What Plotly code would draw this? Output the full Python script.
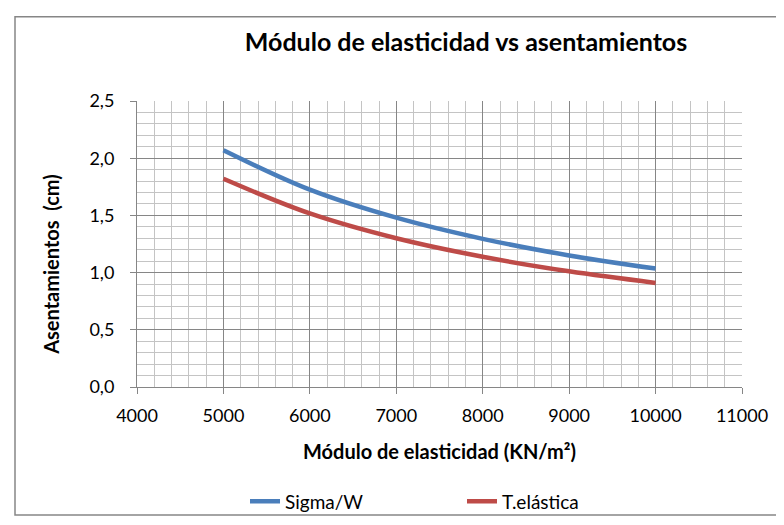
import plotly.graph_objects as go

modulo = [5000, 6000, 7000, 8000, 9000, 10000]
sigma_w = [2.07, 1.725, 1.48, 1.295, 1.15, 1.035]
t_elastica = [1.82, 1.517, 1.30, 1.138, 1.011, 0.91]

W, H = 784, 525
L, R, T, B = 129, 50, 93, 137
pw, ph = W - L - R, H - T - B

FONT = "Lato"

fig = go.Figure()
fig.add_trace(go.Scatter(x=modulo, y=sigma_w, name="Sigma/W", mode="lines",
                         line=dict(color="#4a7ebb", width=4.5, shape="spline")))
fig.add_trace(go.Scatter(x=modulo, y=t_elastica, name="T.elástica", mode="lines",
                         line=dict(color="#be4b48", width=4.5, shape="spline")))

axis_common = dict(showline=True, linecolor="#868686", linewidth=1,
                   ticks="outside", ticklen=6, tickcolor="#868686",
                   showgrid=True, gridcolor="#868686", gridwidth=1,
                   zeroline=False, tickfont=dict(family=FONT, size=18, color="#000"))

fig.update_xaxes(range=[4000, 11000], dtick=1000, tick0=4000, tickformat="d",
                 ticklabelstandoff=6,
                 minor=dict(dtick=200, showgrid=True, gridcolor="#c4c4c4", gridwidth=1),
                 title=dict(text="<b>Módulo de elasticidad (KN/m²)</b>",
                            font=dict(family=FONT, size=20, color="#000"), standoff=20),
                 **axis_common)
fig.update_yaxes(range=[0, 2.5], dtick=0.5, tick0=0, tickformat=".1f",
                 ticklabelstandoff=12,
                 minor=dict(dtick=0.1, showgrid=True, gridcolor="#c4c4c4", gridwidth=1),
                 **axis_common)

fig.update_layout(
    width=W, height=H,
    margin=dict(l=L, r=R, t=T, b=B),
    paper_bgcolor="white", plot_bgcolor="white",
    separators=",.",
    title=dict(text="<b>Módulo de elasticidad vs asentamientos</b>",
               x=458 / W, xanchor="center", y=1 - 34 / H, yanchor="middle",
               font=dict(family=FONT, size=25, color="#000")),
    legend=dict(orientation="h", x=(237 - L) / pw, xanchor="left",
                y=-(506 - (T + ph)) / ph, yanchor="middle",
                bgcolor="rgba(0,0,0,0)",
                font=dict(family=FONT, size=19, color="#000"),
                entrywidth=172, entrywidthmode="pixels"),
    showlegend=True,
    annotations=[dict(text="<b>Asentamientos\u00a0 (cm)</b>", textangle=-90,
                      xref="paper", yref="paper",
                      x=(43 - L) / pw, y=(T + ph - 262) / ph,
                      xanchor="center", yanchor="middle", showarrow=False,
                      font=dict(family=FONT, size=20, color="#000"))],
    shapes=[dict(type="rect", xref="paper", yref="paper",
                 x0=(7 - L) / pw, x1=(779 - L) / pw,
                 y0=-(520 - (T + ph)) / ph, y1=(T + ph - 6) / ph,
                 line=dict(color="#868686", width=1.5), fillcolor="rgba(0,0,0,0)",
                 layer="below")],
)

fig.write_html("out.html")
